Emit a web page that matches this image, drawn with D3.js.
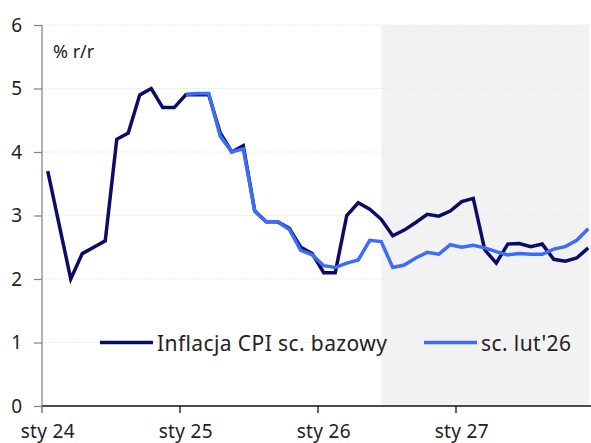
<!DOCTYPE html>
<html>
<head>
<meta charset="utf-8">
<script src="https://cdn.jsdelivr.net/npm/d3@7"></script>
<style>
  body { margin: 0; background: #fff; }
  svg { display: block; font-family: "Noto Sans", sans-serif; }
</style>
</head>
<body>
<script>
// months Jan 2024 .. Dec 2027
const months = d3.range(48).map(i => new Date(2024, i, 1));

const bazowy = [3.7, 2.85, 2.0, 2.4, 2.5, 2.6, 4.2, 4.3, 4.9, 5.0, 4.7, 4.7,
                4.9, 4.9, 4.9, 4.3, 4.0, 4.1, 3.07, 2.9, 2.9, 2.8, 2.5, 2.4,
                2.1, 2.1, 3.0, 3.2, 3.1, 2.94, 2.68, 2.77, 2.89, 3.02, 2.99, 3.07,
                3.22, 3.27, 2.46, 2.25, 2.55, 2.56, 2.51, 2.55, 2.31, 2.28, 2.33, 2.49];

const lut26 = [null, null, null, null, null, null, null, null, null, null, null, null,
               4.91, 4.92, 4.92, 4.25, 4.0, 4.05, 3.07, 2.9, 2.9, 2.78, 2.45, 2.38,
               2.21, 2.18, 2.25, 2.3, 2.61, 2.59, 2.18, 2.22, 2.33, 2.42, 2.39, 2.54,
               2.5, 2.53, 2.49, 2.43, 2.38, 2.4, 2.39, 2.39, 2.47, 2.51, 2.61, 2.79];

const yTicks = [0, 1, 2, 3, 4, 5, 6];
const yearTicks = [0, 12, 24, 36];
const yearLabels = ["sty 24", "sty 25", "sty 26", "sty 27"];
const forecastFrom = 29;

const w = 591, h = 443;
const margin = {left: 42, right: -3, top: 25, bottom: 37};

const svg = d3.select("body").append("svg")
  .attr("width", w)
  .attr("height", h);

const x = d3.scaleBand()
  .domain(d3.range(months.length))
  .range([margin.left, w - margin.right]);

const cx = i => x(i) + x.bandwidth() / 2;

const y = d3.scaleLinear()
  .domain([0, 6])
  .range([h - margin.bottom, margin.top]);

// forecast shading
svg.append("rect")
  .attr("x", cx(forecastFrom))
  .attr("y", y(6))
  .attr("width", cx(months.length - 1) - cx(forecastFrom) + 1)
  .attr("height", y(0) - y(6))
  .attr("fill", "#f2f2f2");

// gridlines
svg.append("g")
  .selectAll("line")
  .data(yTicks.slice(1))
  .enter()
  .append("line")
  .attr("x1", margin.left)
  .attr("x2", w)
  .attr("y1", d => y(d))
  .attr("y2", d => y(d))
  .attr("stroke", "#ececec")
  .attr("stroke-dasharray", "2,1");

// y axis
const yAxis = svg.append("g")
  .attr("transform", `translate(${margin.left},0)`)
  .call(d3.axisLeft(y).tickValues(yTicks).tickSize(8).tickPadding(12).tickFormat(d3.format("d")));
yAxis.select(".domain").attr("stroke", "#888").attr("stroke-width", 1.3)
  .attr("d", `M0,${y(6)}V${y(0) + 7}`);
yAxis.selectAll(".tick line").attr("stroke", "#888").attr("stroke-width", 1.3);
yAxis.selectAll(".tick text")
  .style("font-size", "19px")
  .style("font-family", "Noto Sans")
  .attr("fill", "#222");

// x axis
const xAxis = svg.append("g")
  .attr("transform", `translate(0,${y(0)})`);
xAxis.append("line")
  .attr("x1", margin.left)
  .attr("x2", w)
  .attr("stroke", "#111")
  .attr("stroke-width", 1.3);
xAxis.selectAll("line.tk")
  .data(yearTicks)
  .enter()
  .append("line")
  .attr("class", "tk")
  .attr("x1", d => x(d))
  .attr("x2", d => x(d))
  .attr("y1", 0)
  .attr("y2", 7)
  .attr("stroke", d => d === 0 ? "#888" : "#111")
  .attr("stroke-width", 1.3);
xAxis.selectAll("text")
  .data(yearTicks)
  .enter()
  .append("text")
  .attr("x", d => cx(d))
  .attr("y", 32)
  .attr("text-anchor", "middle")
  .style("font-size", "19px")
  .style("letter-spacing", "0.3px")
  .attr("fill", "#222")
  .text((d, i) => yearLabels[i]);

// unit label
svg.append("text")
  .attr("x", 53)
  .attr("y", 58)
  .style("font-size", "18px")
  .attr("fill", "#222")
  .text("% r/r");

const line = d3.line()
  .defined(d => d != null)
  .x((d, i) => cx(i))
  .y(d => y(d));

svg.append("path")
  .datum(bazowy)
  .attr("d", line)
  .attr("fill", "none")
  .attr("stroke", "#0c0c66")
  .attr("stroke-width", 3.5);

svg.append("path")
  .datum(lut26)
  .attr("d", line)
  .attr("fill", "none")
  .attr("stroke", "#3d6df7")
  .attr("stroke-width", 3.5);

// legend
const legend = [
  {name: "Inflacja CPI sc. bazowy", color: "#0c0c66", x: 100},
  {name: "sc. lut'26", color: "#3d6df7", x: 424}
];
const lg = svg.append("g").selectAll("g")
  .data(legend)
  .enter()
  .append("g")
  .attr("transform", d => `translate(${d.x},${y(1)})`);
lg.append("line")
  .attr("x1", 0)
  .attr("x2", 53)
  .attr("stroke", d => d.color)
  .attr("stroke-width", 3.5);
lg.append("text")
  .attr("x", 57)
  .attr("y", 8)
  .style("font-size", "21px")
  .style("letter-spacing", "0.4px")
  .attr("fill", "#222")
  .text(d => d.name);
</script>
</body>
</html>
